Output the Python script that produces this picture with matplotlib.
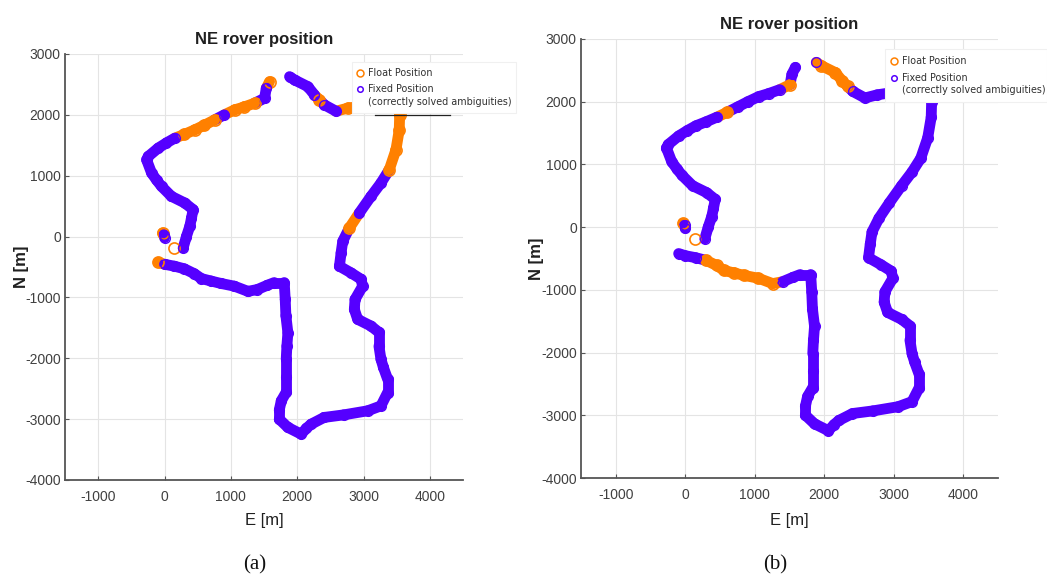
import numpy as np
import matplotlib
matplotlib.use("Agg")
import matplotlib.pyplot as plt
from matplotlib.collections import LineCollection
from matplotlib.lines import Line2D
from matplotlib.patches import Rectangle

plt.rcParams['axes.unicode_minus'] = False

nan = np.nan
# ---- trajectory waypoints (E, N in metres), NaN separates pieces ----
track_E = [-95, 0, 150, 300, 450, 556, 700, 850, 1053, 1258, 1400, 1550, 1654, 1805, 1820,
           1830, 1860, 1845, 1835, 1835, 1835, 1760, 1730, 1730, 1860, 2060, 2140, 2211, 2406,
           2700, 3063, 3263, 3364, 3364, 3300, 3263, 3233, 3233, 3113, 2912, 2862, 2872, 2987,
           2962, 2812, 2637, 2662, 2687, 2787, 2937, 3113, 3263, 3388, 3489, 3539, 3545, 3530,
           3300, 3000, 2762, 2586, 2411, 2336, 2261, 2161, 1960, 1885,
           nan,
           1584, 1534, 1509, 1358, 1200, 1057, 900, 756, 600, 456, 300, 155, 30, -95, -245,
           -270, -195, -120, -45, 105, 306, 431, 406, 381, 330, 281,
           nan,
           -30, -10, 0,
           nan,
           140]
track_N = [-421, -455, -487, -530, -610, -690, -730, -770, -815, -900, -870, -800, -756, -756, -1033,
           -1300, -1580, -1800, -2016, -2300, -2557, -2700, -2850, -3000, -3136, -3246, -3150, -3082, -2972,
           -2930, -2863, -2782, -2563, -2344, -2150, -2016, -1800, -1574, -1470, -1360, -1197, -1033, -815,
           -700, -596, -487, -268, -77, 142, 388, 661, 880, 1098, 1426, 1754, 2000, 2150,
           2170, 2150, 2110, 2060, 2164, 2246, 2328, 2464, 2574, 2628,
           nan,
           2546, 2437, 2273, 2192, 2130, 2082, 2000, 1918, 1830, 1754, 1680, 1617, 1540, 1454, 1317,
           1262, 1044, 930, 825, 661, 552, 443, 300, 169, 0, -186,
           nan,
           60, 30, -20,
           nan,
           -186]

# indices of waypoints solved as float (others fixed)
float_idx_a = [0, 48, 52, 53, 54, 55, 56, 57, 58, 59, 62, 68, 71, 72, 73, 75, 76, 77, 78, 95, 99]
float_idx_b = [3, 4, 5, 6, 7, 8, 9, 62, 63, 64, 65, 70, 76, 95, 99]

xticks = [-1000, 0, 1000, 2000, 3000, 4000]
yticks = [-4000, -3000, -2000, -1000, 0, 1000, 2000, 3000]
xlim = (-1500, 4500)
ylim = (-4000, 3000)

title = "NE rover position"
xlabel = "E [m]"
ylabel = "N [m]"
legend_labels = ["Float Position", "Fixed Position", "(correctly solved ambiguities)"]
captions = ["(a)", "(b)"]

BLUE = "#5500FF"
ORANGE = "#FF8000"
TXT = "#404040"
SANS = ['Liberation Sans', 'DejaVu Sans']

W, H = 1047, 585
fig = plt.figure(figsize=(W / 100, H / 100), dpi=100)
ax_a = fig.add_axes([65/W, 1-480/H, 398/W, 426/H])
ax_b = fig.add_axes([581/W, 1-478/H, 417/W, 439/H])


def fx(px):
    return px / W


def fy(py):
    return 1 - py / H


def draw(ax, float_idx, ylab_x, xlab_y):
    E = np.array(track_E, float)
    N = np.array(track_N, float)
    st = np.zeros(len(E), int)
    st[float_idx] = 1
    segs, cols = [], []
    for i in range(len(E) - 1):
        if np.isnan(E[i]) or np.isnan(E[i + 1]):
            continue
        segs.append([(E[i], N[i]), (E[i + 1], N[i + 1])])
        cols.append(ORANGE if st[i] == 1 else BLUE)
    lc = LineCollection(segs, colors=cols, linewidths=7.8, capstyle='round',
                        joinstyle='round', zorder=3)
    ax.add_collection(lc)
    ok = ~np.isnan(E)
    fl = (st == 1) & ok
    fxd = (st == 0) & ok
    ax.plot(E[fl], N[fl], 'o', mfc='none', mec=ORANGE, ms=8, mew=1.2, zorder=4)
    ax.plot(E[fxd], N[fxd], 'o', mfc='none', mec=BLUE, ms=7, mew=1.0, zorder=5)

    ax.set_xlim(*xlim)
    ax.set_ylim(*ylim)
    ax.set_xticks(xticks)
    ax.set_yticks(yticks)
    ax.set_xticklabels([str(v) for v in xticks], family=SANS, fontsize=10, color=TXT)
    ax.set_yticklabels([str(v) for v in yticks], family=SANS, fontsize=10, color=TXT)
    ax.tick_params(axis='x', direction='in', length=3, width=0.8, color='#555555', pad=7)
    ax.tick_params(axis='y', direction='in', length=3, width=0.8, color='#555555', pad=3)
    ax.grid(True, color='#e4e4e4', lw=0.8)
    ax.set_axisbelow(True)
    for s in ['top', 'right']:
        ax.spines[s].set_visible(False)
    for s in ['left', 'bottom']:
        ax.spines[s].set_color('#555555')
        ax.spines[s].set_linewidth(1.3)
    ax.set_title(title, family=SANS, fontsize=12, fontweight='bold', color='#202020', pad=7)
    ax.set_xlabel(xlabel, family=SANS, fontsize=12, color='#202020')
    ax.set_ylabel(ylabel, family=SANS, fontsize=12, fontweight='bold', color='#202020')
    ax.xaxis.set_label_coords(0.5, xlab_y)
    ax.yaxis.set_label_coords(ylab_x, 0.5)


def legend_box(x0, y0, x1, y1, mx, tx, ys):
    fig.add_artist(Rectangle((fx(x0), fy(y1)), fx(x1) - fx(x0), fy(y0) - fy(y1),
                             facecolor='white', edgecolor='#f0f0f0', lw=0.8, zorder=5))
    fig.add_artist(Line2D([fx(mx)], [fy(ys[0])], ls='none', marker='o', mfc='none',
                          mec=ORANGE, ms=5, mew=1.1, zorder=6))
    fig.add_artist(Line2D([fx(mx)], [fy(ys[1])], ls='none', marker='o', mfc='none',
                          mec=BLUE, ms=4, mew=1.1, zorder=6))
    for lab, yy in zip(legend_labels, ys):
        fig.text(fx(tx), fy(yy), lab, fontsize=6.9, color='#303030',
                 va='center', ha='left', zorder=7)


draw(ax_a, float_idx_a, -0.09, -0.078)
draw(ax_b, float_idx_b, -0.088, -0.08)

legend_box(352, 62, 516, 113, 360, 368, (73, 89, 102))
legend_box(885, 49, 1047, 102, 894, 902, (61, 78, 90))

fig.add_artist(Line2D([fx(375), fx(450)], [fy(115), fy(115)], color='#222222', lw=0.9, zorder=6))

fig.text(fx(255), fy(565), captions[0], ha='center', va='center', fontsize=15,
         family=['Liberation Serif', 'DejaVu Serif'], color='#111111')
fig.text(fx(775), fy(565), captions[1], ha='center', va='center', fontsize=15,
         family=['Liberation Serif', 'DejaVu Serif'], color='#111111')

fig.savefig("out.png", dpi=100)
